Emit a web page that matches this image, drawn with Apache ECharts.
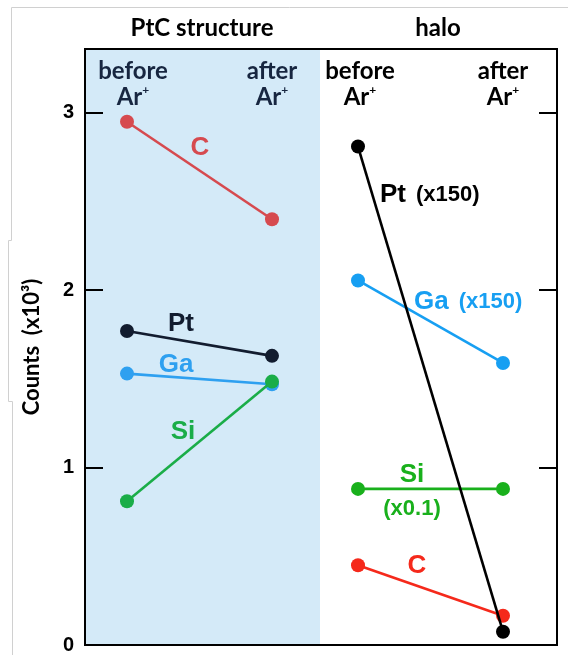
<!DOCTYPE html>
<html><head><meta charset="utf-8">
<script src="https://cdn.jsdelivr.net/npm/echarts@6/dist/echarts.min.js"></script>
<style>html,body{margin:0;padding:0;background:#fff}#c{width:568px;height:655px}</style>
</head><body><div id="c"></div>
<script>
// ---- data ----
const stages = ['before', 'after'];
const panelTitles = ['PtC structure', 'halo'];
const yTicks = [0, 1, 2, 3];
const yName = 'Counts  (x10³)';
// PtC structure panel (x10^3 counts)
const ptcC  = [2.95, 2.40];
const ptcPt = [1.77, 1.63];
const ptcGa = [1.53, 1.47];
const ptcSi = [0.81, 1.485];
// halo panel
const haloC  = [0.45, 0.165];
const haloSi = [0.88, 0.88];
const haloGa = [2.055, 1.59];
const haloPt = [2.81, 0.075];

const YMAX = 3.36;
const TOP = 49, BOTTOM = 10;
const c = {
  lC: '#d64a4f', lPt: '#121c2f', lGa: '#2ea0f0', lSi: '#1aad48',
  rC: '#f5291b', rSi: '#19b01c', rGa: '#179ff2', rPt: '#000000'
};
const chart = echarts.init(document.getElementById('c'), null, {renderer: 'canvas'});

function catAxis(grid, color, firstShift) {
  const base = {fontFamily: 'Lato', fontWeight: 'bold', fontSize: 24, color: color, lineHeight: 26, align: 'center'};
  const sup = {fontFamily: 'Lato', fontWeight: 'bold', fontSize: 12, color: color, lineHeight: 26, verticalAlign: 'top', padding: [0, 0, 11, 0]};
  return {
    type: 'category', gridIndex: grid, data: stages, boundaryGap: false, position: 'top',
    axisLine: {show: false}, axisTick: {show: false}, splitLine: {show: false},
    axisLabel: {
      inside: true, margin: 9, interval: 0,
      formatter: (v, i) => i === 0
        ? '{a0|' + v + '}\n{a0|Ar}{s|+}'
        : '{a|' + v + '}\n{a|Ar}{s|+}',
      rich: {
        a: base,
        a0: Object.assign({}, base, {padding: [0, 0, 0, firstShift]}),
        s: sup
      }
    }
  };
}
function hiddenX(grid) { return {type: 'category', gridIndex: grid, data: stages, show: false}; }
function hiddenY(grid) { return {type: 'value', gridIndex: grid, min: 0, max: YMAX, show: false, splitLine: {show: false}}; }

function line(xi, yi, data, color, z) {
  return {
    type: 'line', xAxisIndex: xi, yAxisIndex: yi, data: data, z: z,
    symbol: 'circle', symbolSize: 14, showSymbol: true,
    lineStyle: {color: color, width: 2.6}, itemStyle: {color: color},
    silent: true, animation: false
  };
}

const tickStyle = {color: '#000', width: 2};
const option = {
  animation: false,
  grid: [
    {left: 85, width: 235, top: TOP, bottom: BOTTOM, show: true, backgroundColor: '#d4eaf8', borderWidth: 0},
    {left: 320, width: 237, top: TOP, bottom: BOTTOM, show: false},
    {left: 127, width: 145, top: TOP, bottom: BOTTOM},
    {left: 358, width: 145, top: TOP, bottom: BOTTOM},
    {left: 85, width: 472, top: TOP, bottom: BOTTOM, show: true, borderColor: '#000', borderWidth: 2, backgroundColor: 'transparent'}
  ],
  xAxis: [hiddenX(0), hiddenX(1), catAxis(2, '#172640', 12), catAxis(3, '#000', 4), hiddenX(4)],
  yAxis: [
    {
      type: 'value', gridIndex: 0, min: 0, max: YMAX, interval: 1, position: 'left',
      axisLine: {show: true, lineStyle: tickStyle},
      axisTick: {show: true, inside: true, length: 18, lineStyle: tickStyle, customValues: yTicks},
      axisLabel: {customValues: yTicks, fontFamily: 'Liberation Sans', fontWeight: 'bold', fontSize: 20, color: '#000', margin: 11},
      splitLine: {show: false},
      name: yName, nameLocation: 'middle', nameRotate: 90, nameGap: 42,
      nameTextStyle: {fontFamily: 'Lato', fontWeight: 'bold', fontSize: 22, color: '#000'}
    },
    {
      type: 'value', gridIndex: 1, min: 0, max: YMAX, interval: 1, position: 'right',
      axisLine: {show: true, lineStyle: tickStyle},
      axisTick: {show: true, inside: true, length: 18, lineStyle: tickStyle, customValues: yTicks},
      axisLabel: {show: false}, splitLine: {show: false}
    },
    hiddenY(2), hiddenY(3), hiddenY(4)
  ],
  series: [
    line(2, 2, ptcC, c.lC, 3),
    line(2, 2, ptcPt, c.lPt, 4),
    line(2, 2, ptcGa, c.lGa, 5),
    line(2, 2, ptcSi, c.lSi, 6),
    line(3, 3, haloC, c.rC, 3),
    line(3, 3, haloSi, c.rSi, 4),
    line(3, 3, haloGa, c.rGa, 5),
    line(3, 3, haloPt, c.rPt, 6)
  ],
  graphic: [
    // faint outer frame
    {type: 'polyline', silent: true, shape: {points: [[568, 7.5], [11.5, 7.5], [11.5, 240.5], [8.5, 240.5], [8.5, 401.5], [12.5, 401.5], [12.5, 655]]}, style: {stroke: '#d0d0d0', lineWidth: 1, fill: null}},
    {type: 'text', x: 202, y: 28, style: {text: panelTitles[0], font: 'bold 24px Lato', fill: '#000', align: 'center', verticalAlign: 'middle'}},
    {type: 'text', x: 438, y: 28, style: {text: panelTitles[1], font: 'bold 24px Lato', fill: '#000', align: 'center', verticalAlign: 'middle'}},
    // PtC labels
    {type: 'text', x: 200, y: 148, z: 10, style: {text: 'C', font: 'bold 26px "Liberation Sans"', fill: c.lC, align: 'center', verticalAlign: 'middle'}},
    {type: 'text', x: 181, y: 324, z: 10, style: {text: 'Pt', font: 'bold 26px "Liberation Sans"', fill: c.lPt, align: 'center', verticalAlign: 'middle'}},
    {type: 'text', x: 176, y: 365, z: 10, style: {text: 'Ga', font: 'bold 26px "Liberation Sans"', fill: c.lGa, align: 'center', verticalAlign: 'middle'}},
    {type: 'text', x: 183, y: 432, z: 10, style: {text: 'Si', font: 'bold 26px "Liberation Sans"', fill: c.lSi, align: 'center', verticalAlign: 'middle'}},
    // halo labels
    {type: 'text', x: 380, y: 195, z: 10, style: {text: '{b|Pt}{m|(x150)}', align: 'left', verticalAlign: 'middle',
      rich: {b: {font: 'bold 26px "Liberation Sans"', fill: c.rPt}, m: {font: 'bold 22px "Liberation Sans"', fill: c.rPt, padding: [0, 0, 0, 10]}}}},
    {type: 'text', x: 414, y: 302, z: 10, style: {text: '{b|Ga}{m|(x150)}', align: 'left', verticalAlign: 'middle',
      rich: {b: {font: 'bold 26px "Liberation Sans"', fill: c.rGa}, m: {font: 'bold 22px "Liberation Sans"', fill: c.rGa, padding: [0, 0, 0, 10]}}}},
    {type: 'text', x: 412, y: 475, z: 10, style: {text: 'Si', font: 'bold 26px "Liberation Sans"', fill: c.rSi, align: 'center', verticalAlign: 'middle'}},
    {type: 'text', x: 412, y: 509, z: 10, style: {text: '(x0.1)', font: 'bold 22px "Liberation Sans"', fill: c.rSi, align: 'center', verticalAlign: 'middle'}},
    {type: 'text', x: 417, y: 566, z: 10, style: {text: 'C', font: 'bold 26px "Liberation Sans"', fill: c.rC, align: 'center', verticalAlign: 'middle'}}
  ]
};
chart.setOption(option);
</script>
</body></html>
